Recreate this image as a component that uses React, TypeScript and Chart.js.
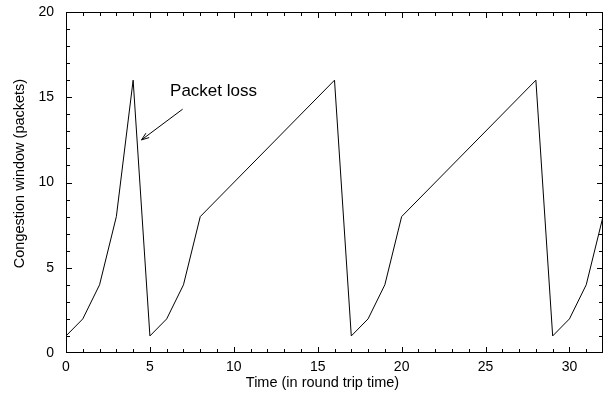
import React, { useEffect, useRef } from "react";
import { Chart, registerables } from "chart.js";

Chart.register(...registerables);

// Data: congestion window (packets) versus time (round trip times)
const timeValues: number[] = [0, 1, 2, 3, 4, 5, 6, 7, 8, 16, 17, 18, 19, 20, 28, 29, 30, 31, 32];
const cwndValues: number[] = [1, 2, 4, 8, 16, 1, 2, 4, 8, 16, 1, 2, 4, 8, 16, 1, 2, 4, 8];

const xTitle = "Time (in round trip time)";
const yTitle = "Congestion window (packets)";

// Annotation: "Packet loss" label and arrow (data coordinates)
const annotationText = "Packet loss";
const annotationTextAt = { x: 6.2, y: 15.35 };
const arrowFrom = { x: 6.95, y: 14.3 };
const arrowTo = { x: 4.5, y: 12.5 };

const X_MIN = 0, X_MAX = 32, Y_MIN = 0, Y_MAX = 20;
const MAJOR_STEP = 5, MINOR_STEP = 1;

const FONT = "'Liberation Sans', Arial, Helvetica, sans-serif";

const framePlugin = {
  id: "gnuplotFrame",
  afterDraw(chart: any) {
    const ctx: CanvasRenderingContext2D = chart.ctx;
    const area = chart.chartArea;
    const xs = chart.scales.x;
    const ys = chart.scales.y;
    const L = Math.round(xs.getPixelForValue(X_MIN));
    const R = Math.round(xs.getPixelForValue(X_MAX)) - 1;
    const T = Math.round(ys.getPixelForValue(Y_MAX));
    const B = Math.round(ys.getPixelForValue(Y_MIN)) - 1;
    ctx.save();
    ctx.fillStyle = "#000";
    // frame
    ctx.fillRect(L, T, R - L + 1, 1);
    ctx.fillRect(L, B, R - L + 1, 1);
    ctx.fillRect(L, T, 1, B - T + 1);
    ctx.fillRect(R, T, 1, B - T + 1);
    // inward ticks on all four sides
    for (let v = X_MIN; v <= X_MAX; v += MINOR_STEP) {
      const len = v % MAJOR_STEP === 0 ? 5 : 3;
      const px = Math.min(Math.round(xs.getPixelForValue(v)), R);
      ctx.fillRect(px, B - len, 1, len);
      ctx.fillRect(px, T + 1, 1, len);
    }
    for (let v = Y_MIN; v <= Y_MAX; v += MINOR_STEP) {
      const len = v % MAJOR_STEP === 0 ? 5 : 3;
      const py = Math.min(Math.round(ys.getPixelForValue(v)), B);
      ctx.fillRect(L + 1, py, len, 1);
      ctx.fillRect(R - len, py, len, 1);
    }

    // Axis titles
    ctx.font = `14.5px ${FONT}`;
    ctx.textAlign = "center";
    ctx.textBaseline = "middle";
    ctx.fillText(xTitle, chart.width / 2 + 16, chart.height - 10);
    ctx.save();
    ctx.translate(20, (area.top + area.bottom) / 2 - 9);
    ctx.rotate(-Math.PI / 2);
    ctx.fillText(yTitle, 0, 0);
    ctx.restore();

    // Annotation
    ctx.font = `17px ${FONT}`;
    ctx.textAlign = "left";
    ctx.fillText(
      annotationText,
      xs.getPixelForValue(annotationTextAt.x),
      ys.getPixelForValue(annotationTextAt.y)
    );
    const x1 = xs.getPixelForValue(arrowFrom.x);
    const y1 = ys.getPixelForValue(arrowFrom.y);
    const x2 = xs.getPixelForValue(arrowTo.x);
    const y2 = ys.getPixelForValue(arrowTo.y);
    ctx.strokeStyle = "#000";
    ctx.lineWidth = 1;
    ctx.beginPath();
    ctx.moveTo(x1, y1);
    ctx.lineTo(x2, y2);
    const ang = Math.atan2(y2 - y1, x2 - x1);
    const head = 8;
    const spread = Math.PI / 9;
    ctx.moveTo(x2, y2);
    ctx.lineTo(x2 - head * Math.cos(ang - spread), y2 - head * Math.sin(ang - spread));
    ctx.moveTo(x2, y2);
    ctx.lineTo(x2 - head * Math.cos(ang + spread), y2 - head * Math.sin(ang + spread));
    ctx.stroke();
    ctx.restore();
  },
};

export default function App() {
  const canvasRef = useRef<HTMLCanvasElement | null>(null);

  useEffect(() => {
    document.body.style.margin = "0";
    const canvas = canvasRef.current;
    if (!canvas) return;
    const chart = new Chart(canvas, {
      type: "line",
      data: {
        datasets: [
          {
            data: timeValues.map((t, i) => ({ x: t, y: cwndValues[i] })),
            borderColor: "#000",
            borderWidth: 1,
            pointRadius: 0,
            tension: 0,
            fill: false,
          },
        ],
      },
      options: {
        animation: false,
        responsive: false,
        maintainAspectRatio: false,
        layout: { padding: { left: 0, top: 12, right: 10, bottom: 0 } },
        plugins: {
          legend: { display: false },
          tooltip: { enabled: false },
        },
        scales: {
          x: {
            type: "linear",
            min: X_MIN,
            max: X_MAX,
            grid: { display: false, drawTicks: false },
            border: { display: false },
            ticks: {
              stepSize: MAJOR_STEP,
              color: "#000",
              font: { family: FONT, size: 14 },
              padding: 6,
              maxRotation: 0,
              autoSkip: false,
              callback: (v: any) => (Number(v) % MAJOR_STEP === 0 ? String(v) : ""),
            },
            afterFit: (scale: any) => {
              scale.height = 40;
              scale.paddingLeft = 0;
              scale.paddingRight = 0;
            },
          },
          y: {
            type: "linear",
            min: Y_MIN,
            max: Y_MAX,
            grid: { display: false, drawTicks: false },
            border: { display: false },
            ticks: {
              stepSize: MAJOR_STEP,
              color: "#000",
              font: { family: FONT, size: 14 },
              padding: 12,
            },
            afterFit: (scale: any) => {
              scale.width = 66;
              scale.paddingTop = 0;
              scale.paddingBottom = 0;
            },
          },
        },
      },
      plugins: [framePlugin],
    });
    return () => chart.destroy();
  }, []);

  return (
    <div style={{ width: 613, height: 393, background: "#fff" }}>
      <canvas ref={canvasRef} width={613} height={393} style={{ display: "block" }} />
    </div>
  );
}
